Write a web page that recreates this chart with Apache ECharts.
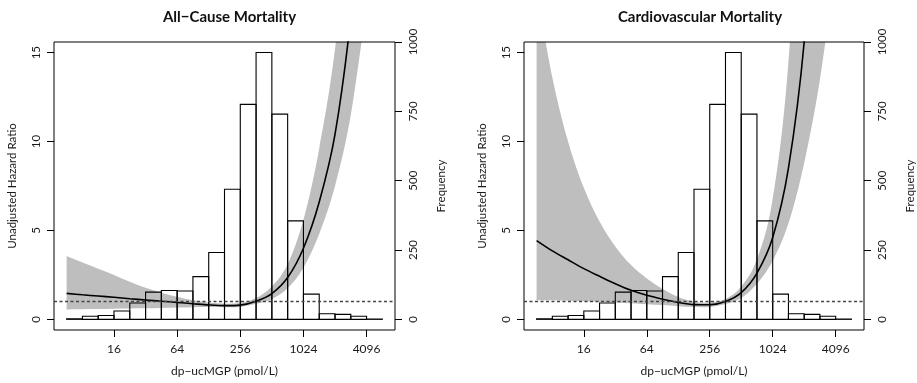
<!DOCTYPE html>
<html><head><meta charset="utf-8">
<script src="https://cdn.jsdelivr.net/npm/echarts@6/dist/echarts.min.js"></script>
<style>html,body{margin:0;padding:0;background:#fff}#c{width:917px;height:383px}</style>
</head><body><div id="c"></div>
<script>
// x values are log2(dp-ucMGP, pmol/L)
const binEdges = [2.5,3.0,3.5,4.0,4.5,5.0,5.5,6.0,6.5,7.0,7.5,8.0,8.5,9.0,9.5,10.0,10.5,11.0,11.5,12.0,12.5];
const frequency = [2,11,14,30,59,98,104,102,154,241,469,775,962,740,355,91,20,18,11,1];

const xGrid = [2.5,3.0,3.5,4.0,4.5,5.0,5.5,6.0,6.5,7.0,7.5,8.0,8.5,9.0,9.5,10.0,10.5,11.0,11.5,12.0];
const allHR    = [1.46,1.38,1.31,1.24,1.16,1.09,1.02,0.95,0.88,0.81,0.77,0.80,1.02,1.45,2.35,4.0,6.6,10.4,17.0,27];
const allUpper = [3.56,3.2,2.85,2.5,2.12,1.78,1.5,1.27,1.07,0.94,0.88,0.92,1.2,1.85,3.1,5.6,9.6,15.2,24,38];
const allLower = [0.56,0.57,0.58,0.6,0.61,0.62,0.64,0.66,0.68,0.69,0.68,0.70,0.87,1.15,1.75,2.9,4.8,7.5,11.5,17.7];

const cvHR    = [4.43,3.85,3.35,2.85,2.42,2.0,1.63,1.35,1.13,0.95,0.83,0.82,1.0,1.5,2.6,4.6,8.5,15.6,28,48];
const cvUpper = [18.5,13.6,10.0,7.4,5.5,4.1,3.05,2.3,1.72,1.25,0.99,0.95,1.15,1.85,3.4,6.8,14.5,30,55,90];
const cvLower = [1.08,1.075,1.05,1.02,0.99,0.95,0.9,0.85,0.8,0.74,0.69,0.70,0.86,1.2,2.0,3.3,5.4,8.8,13.5,20];

const xTicks = [4,6,8,10,12];
const xTickLabels = ['16','64','256','1024','4096'];
const hrTicks = [0,5,10,15];
const freqTicks = [0,250,500,750,1000];
const titles = ['All\u2212Cause Mortality','Cardiovascular Mortality'];
const xName = 'dp\u2212ucMGP (pmol/L)';
const yName = 'Unadjusted Hazard Ratio';
const y2Name = 'Frequency';

const FONT = 'Lato';
const TXT = '#1a1a1a';
const HRMIN = -0.6, HRMAX = 15.6;
const FMAX = 1000, FMIN = -FMAX * 0.6 / 15.6;

const grids = [
  {left: 54, top: 42, width: 341, height: 288},
  {left: 524, top: 42, width: 342, height: 288}
];

const histData = frequency.map((f, i) => [binEdges[i], binEdges[i+1], f]);
const pairs = (a) => xGrid.map((x, i) => [x, a[i]]);

function histRender(params, api) {
  const p0 = api.coord([api.value(0), api.value(2)]);
  const p1 = api.coord([api.value(1), 0]);
  return {type: 'rect', shape: {x: p0[0], y: p0[1], width: p1[0]-p0[0], height: p1[1]-p0[1]},
    style: {fill: 'none', stroke: '#000', lineWidth: 1.1}};
}

// Catmull-Rom style cubic segments through already-projected points
function curveSegs(pts) {
  let d = '';
  for (let i = 0; i < pts.length - 1; i++) {
    const p0 = pts[Math.max(i-1, 0)], p1 = pts[i], p2 = pts[i+1], p3 = pts[Math.min(i+2, pts.length-1)];
    const c1 = [p1[0] + (p2[0]-p0[0])/6, p1[1] + (p2[1]-p0[1])/6];
    const c2 = [p2[0] - (p3[0]-p1[0])/6, p2[1] - (p3[1]-p1[1])/6];
    d += ' C' + c1[0] + ' ' + c1[1] + ' ' + c2[0] + ' ' + c2[1] + ' ' + p2[0] + ' ' + p2[1];
  }
  return d;
}
function bandRenderFor(up, lo) {
  return function (params, api) {
    if (params.dataIndex !== 0) return null;
    const U = xGrid.map((x, i) => api.coord([x, up[i]]));
    const L = xGrid.map((x, i) => api.coord([x, lo[i]])).reverse();
    const d = 'M' + U[0][0] + ' ' + U[0][1] + curveSegs(U) +
              ' L' + L[0][0] + ' ' + L[0][1] + curveSegs(L) + ' Z';
    return {type: 'path', shape: {pathData: d}, style: {fill: '#bebebe', stroke: null}};
  };
}

const panels = [[allHR, allUpper, allLower],[cvHR, cvUpper, cvLower]];

const option = {
  animation: false,
  title: titles.map((t, i) => ({
    text: t, left: grids[i].left + grids[i].width/2, top: 5, textAlign: 'center',
    textStyle: {fontFamily: FONT, fontWeight: 'bold', fontSize: 15, color: '#111'}
  })),
  grid: grids.map(g => Object.assign({show: true, borderColor: '#000', borderWidth: 1, backgroundColor: 'transparent', z: 5}, g)),
  xAxis: grids.map((g, i) => ({
    type: 'value', gridIndex: i, min: 2.1, max: 12.9,
    name: xName, nameLocation: 'middle', nameGap: 35,
    nameTextStyle: {fontFamily: FONT, fontSize: 12, color: TXT},
    axisLine: {show: false, onZero: false},
    splitLine: {show: false},
    axisTick: {show: true, length: 7, customValues: xTicks, lineStyle: {color: '#000', width: 1}},
    axisLabel: {customValues: xTicks, margin: 13, fontFamily: FONT, fontSize: 12, color: TXT,
      formatter: v => xTickLabels[xTicks.indexOf(v)]}
  })),
  yAxis: [].concat(...grids.map((g, i) => ([
    {type: 'value', gridIndex: i, min: HRMIN, max: HRMAX, position: 'left',
     name: yName, nameLocation: 'middle', nameGap: 36, nameRotate: 90,
     nameTextStyle: {fontFamily: FONT, fontSize: 11.5, color: TXT},
     axisLine: {show: false, onZero: false}, splitLine: {show: false},
     axisTick: {show: true, length: 7, customValues: hrTicks, lineStyle: {color: '#000'}},
     axisLabel: {customValues: hrTicks, rotate: 90, margin: 12, fontFamily: FONT, fontSize: 11.5, color: TXT,
       formatter: v => String(v)}},
    {type: 'value', gridIndex: i, min: FMIN, max: FMAX, position: 'right',
     name: y2Name, nameLocation: 'middle', nameGap: 40, nameRotate: 90,
     nameTextStyle: {fontFamily: FONT, fontSize: 11.5, color: TXT},
     axisLine: {show: false, onZero: false}, splitLine: {show: false},
     axisTick: {show: true, length: 7, customValues: freqTicks, lineStyle: {color: '#000'}},
     axisLabel: {customValues: freqTicks, rotate: 90, margin: 12, fontFamily: FONT, fontSize: 11.5, color: TXT,
       formatter: v => String(v)}}
  ]))),
  series: [].concat(...panels.map(([hr, up, lo], i) => ([
    {type: 'custom', xAxisIndex: i, yAxisIndex: 2*i, data: xGrid.map((x, k) => [x, lo[k], up[k]]),
     renderItem: bandRenderFor(up, lo), encode: {x: 0, y: [1, 2]}, clip: true, silent: true, z: 1},
    {type: 'custom', xAxisIndex: i, yAxisIndex: 2*i+1, data: histData, renderItem: histRender,
     encode: {x: [0, 1], y: 2}, clip: true, silent: true, z: 2},
    {type: 'line', xAxisIndex: i, yAxisIndex: 2*i, data: pairs(hr), smooth: 0.3, symbol: 'none',
     lineStyle: {color: '#000', width: 1.6}, silent: true, z: 3,
     markLine: {symbol: 'none', silent: true, label: {show: false},
       lineStyle: {type: [3, 2.5], color: '#444', width: 1.3}, data: [{yAxis: 1}]}}
  ])))
};
echarts.init(document.getElementById('c'), null, {renderer: 'canvas'}).setOption(option);
</script></body></html>
